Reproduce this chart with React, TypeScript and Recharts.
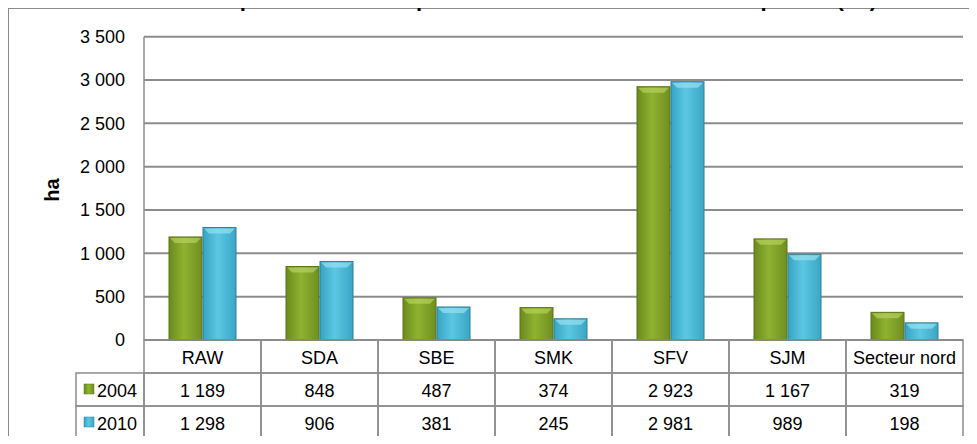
import React from 'react'
import { BarChart, Bar, XAxis, YAxis, CartesianGrid } from 'recharts'

// superficie cultivée par municipalité (ha)
const CATEGORIES = ['RAW', 'SDA', 'SBE', 'SMK', 'SFV', 'SJM', 'Secteur nord']
const VALUES_2004 = [1189, 848, 487, 374, 2923, 1167, 319]
const VALUES_2010 = [1298, 906, 381, 245, 2981, 989, 198]
const Y_TICKS = [0, 500, 1000, 1500, 2000, 2500, 3000, 3500]
const SERIES = [
  { key: 'y2004', label: '2004', values: VALUES_2004, grad: 'gGreen', top: '#b6d25c', edge: '#5d7418' },
  { key: 'y2010', label: '2010', values: VALUES_2010, grad: 'gCyan', top: '#9adff0', edge: '#2f7f99' },
]
const TITLE = 'Illustration D. 3-6 – Répartition de la superficie cultivée selon les municipalités (ha)'

const data = CATEGORIES.map((cat, i) => {
  const row: Record<string, string | number> = { cat }
  SERIES.forEach(s => { row[s.key] = s.values[i] })
  return row
})

const W = 977, H = 444
const PLOT_L = 144, PLOT_R = 963, PLOT_T = 36.7, PLOT_B = 340
const ROW_H = 33
const LEG_L = 76
const COL_W = (PLOT_R - PLOT_L) / CATEGORIES.length
const LINE = '#8c8c8c'
const FONT = '"Liberation Sans", Arial, sans-serif'

const fmt = (v: number) => String(v).replace(/\B(?=(\d{3})+(?!\d))/g, ' ')

function BevelBar(props: any) {
  const { x, y, width, height, fill, top, edge } = props
  if (!height || height <= 0) return null
  const b = Math.min(6, height / 2)
  return (
    <g>
      <rect x={x} y={y} width={width} height={height} fill={fill} stroke={edge} strokeWidth={1} />
      <path d={`M${x + 1},${y + 1} L${x + width - 1},${y + 1} L${x + width - 6},${y + b} L${x + 6},${y + b} Z`} fill={top} opacity={0.7} />
    </g>
  )
}

function TableTick(props: any) {
  const { x, payload, index } = props
  const left = x - COL_W / 2
  return (
    <g>
      {[0, 1, 2].map(r => (
        <rect key={r} x={left} y={PLOT_B + r * ROW_H} width={COL_W} height={ROW_H}
          fill="none" stroke={LINE} strokeWidth={1.5} />
      ))}
      <text x={x} y={PLOT_B + ROW_H / 2 + 1} textAnchor="middle" dominantBaseline="central"
        fontSize={18} fontFamily={FONT} fill="#000">{payload.value}</text>
      {SERIES.map((s, r) => (
        <text key={s.key} x={x} y={PLOT_B + (r + 1.5) * ROW_H + 1} textAnchor="middle" dominantBaseline="central"
          fontSize={18} fontFamily={FONT} fill="#000">{fmt(s.values[index])}</text>
      ))}
    </g>
  )
}

export default function App() {
  return (
    <div style={{ position: 'relative', width: W, height: H, overflow: 'hidden', margin: -8 }}>
      <svg width={W} height={H} style={{ position: 'absolute', left: 0, top: 0 }}>
        <rect x={8} y={8} width={1100} height={600} fill="#fff" stroke={LINE} strokeWidth={2} />
        <text x={8} y={6} fontSize={22} fontWeight="bold" fontFamily={FONT} fill="#000"
          textLength={869} lengthAdjust="spacingAndGlyphs">{TITLE}</text>
      </svg>
      <div style={{ position: 'absolute', left: 0, top: 0 }}>
        <BarChart width={W} height={H} data={data}
          margin={{ top: PLOT_T, right: W - PLOT_R, bottom: 0, left: 0 }}
          barGap={1} barSize={33}>
          <defs>
            <linearGradient id="gGreen" x1="0" y1="0" x2="1" y2="0">
              <stop offset="0%" stopColor="#6a8a1c" />
              <stop offset="45%" stopColor="#8fb231" />
              <stop offset="100%" stopColor="#6f8f20" />
            </linearGradient>
            <linearGradient id="gCyan" x1="0" y1="0" x2="1" y2="0">
              <stop offset="0%" stopColor="#36a4c4" />
              <stop offset="45%" stopColor="#5cc7e3" />
              <stop offset="100%" stopColor="#3aa6c6" />
            </linearGradient>
          </defs>
          <CartesianGrid vertical={false} stroke={LINE} strokeWidth={2} />
          <YAxis domain={[0, 3500]} ticks={Y_TICKS} width={PLOT_L} tickSize={0} tickMargin={19}
            axisLine={{ stroke: LINE, strokeWidth: 1.5 }} tickLine={false} tickFormatter={fmt}
            tick={{ fill: '#000', fontSize: 18, fontFamily: FONT }} interval={0} />
          <XAxis dataKey="cat" height={H - PLOT_B} axisLine={false} tickLine={false} interval={0}
            tick={<TableTick />} />
          {SERIES.map(s => (
            <Bar key={s.key} dataKey={s.key} fill={`url(#${s.grad})`} isAnimationActive={false}
              shape={(p: any) => <BevelBar {...p} top={s.top} edge={s.edge} />} />
          ))}
        </BarChart>
      </div>
      <svg width={W} height={H} style={{ position: 'absolute', left: 0, top: 0, pointerEvents: 'none' }}>
        <text x={52} y={190} transform="rotate(-90 52 190)" textAnchor="middle" dominantBaseline="central"
          fontSize={20} fontWeight="bold" fontFamily={FONT} fill="#000">ha</text>
        {SERIES.map((s, r) => {
          const top = PLOT_B + (r + 1) * ROW_H
          return (
            <g key={s.key}>
              <rect x={LEG_L} y={top} width={PLOT_L - LEG_L} height={ROW_H} fill="none" stroke={LINE} strokeWidth={1.5} />
              <rect x={LEG_L + 8} y={top + 11} width={10} height={10} fill={`url(#${s.grad})`} stroke={s.edge} strokeWidth={0.5} />
              <text x={LEG_L + 21} y={top + ROW_H / 2 + 1} dominantBaseline="central" fontSize={18}
                fontFamily={FONT} fill="#000">{s.label}</text>
            </g>
          )
        })}
      </svg>
    </div>
  )
}
